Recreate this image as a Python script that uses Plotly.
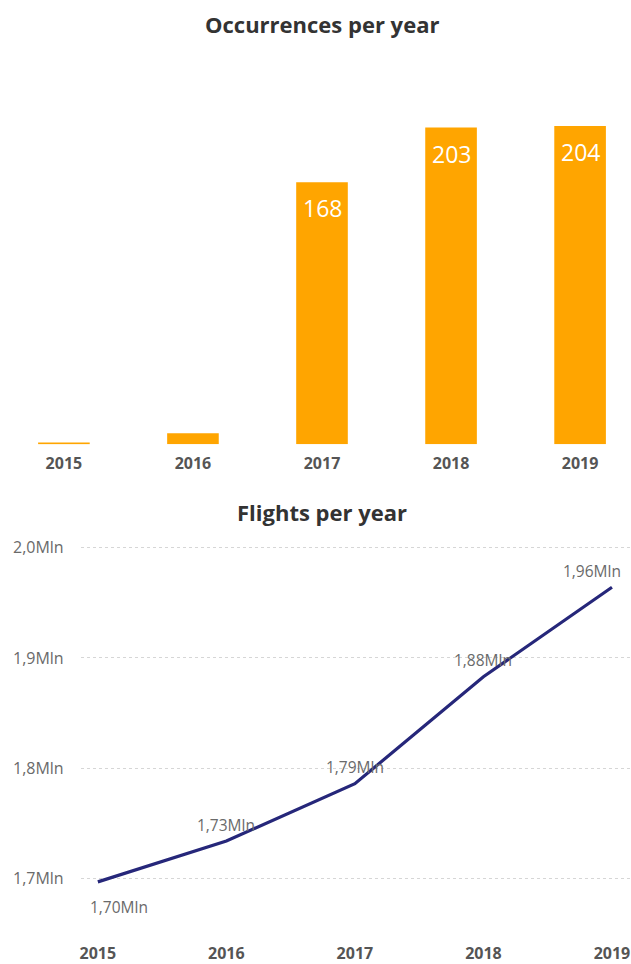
import plotly.graph_objects as go

# Occurrences per year (bar chart)
years = ["2015", "2016", "2017", "2018", "2019"]
occurrences = [1, 7, 168, 203, 204]

# Flights per year, in millions (line chart)
flights_mln = [1.697, 1.734, 1.786, 1.883, 1.964]
flight_ticks = [1.7, 1.8, 1.9, 2.0]
flight_tick_text = ["1,7Mln", "1,8Mln", "1,9Mln", "2,0Mln"]

W, H = 631, 964
ORANGE = "#FFA500"
NAVY = "#26277A"
TITLE_FONT = "Open Sans"
LABEL_FONT = "Open Sans"

idx = list(range(len(years)))

fig = go.Figure()

fig.add_trace(go.Bar(
    x=idx, y=occurrences, width=0.4, marker=dict(color=ORANGE, line=dict(width=0)),
    xaxis="x", yaxis="y", hoverinfo="skip", showlegend=False,
))

fig.add_trace(go.Scatter(
    x=idx, y=flights_mln, mode="lines",
    line=dict(color=NAVY, width=3.2),
    xaxis="x2", yaxis="y2", hoverinfo="skip", showlegend=False,
))

def fmt_mln(v):
    return f"{v:.2f}".replace(".", ",") + "Mln"

annotations = []

# value labels inside the top of the larger bars
for i, v in enumerate(occurrences):
    if v > 50:
        annotations.append(dict(
            x=i, y=v, xref="x", yref="y", text=str(v), showarrow=False,
            yshift=-26, font=dict(family=LABEL_FONT, size=23, color="white"),
        ))

# data labels on the flight line
label_offsets = [(21, -25), (0, 16), (0, 17), (0, 17), (-20, 16)]
for i, v in enumerate(flights_mln):
    dx, dy = label_offsets[i]
    annotations.append(dict(
        x=i, y=v, xref="x2", yref="y2", text=fmt_mln(v), showarrow=False,
        xshift=dx, yshift=dy, font=dict(family=LABEL_FONT, size=15.5, color="#6a6a6a"),
    ))

# chart titles
annotations.append(dict(
    x=322 / W, y=1 - 20 / H, xref="paper", yref="paper", yanchor="middle",
    text="<b>Occurrences per year</b>", showarrow=False,
    font=dict(family=TITLE_FONT, size=22, color="#333333"),
))
annotations.append(dict(
    x=322 / W, y=1 - 511 / H, xref="paper", yref="paper", yanchor="middle",
    text="<b>Flights per year</b>", showarrow=False,
    font=dict(family=TITLE_FONT, size=22, color="#333333"),
))

tick_font = dict(family=TITLE_FONT, size=16, color="#555555")

fig.update_layout(
    width=W, height=H,
    margin=dict(l=0, r=0, t=0, b=0),
    paper_bgcolor="white", plot_bgcolor="white",
    annotations=annotations,
    xaxis=dict(
        domain=[0, 1], range=[-0.4875, 4.3945], anchor="y",
        tickvals=idx, ticktext=[f"<b>{y}</b>" for y in years],
        tickfont=tick_font, showgrid=False, zeroline=False, showline=False,
        ticks="outside", ticklen=5, tickcolor="rgba(0,0,0,0)",
    ),
    yaxis=dict(
        domain=[1 - 443 / H, 1 - 100 / H], range=[0, 218.5], anchor="x",
        visible=False, showgrid=False, zeroline=False,
    ),
    xaxis2=dict(
        domain=[80 / W, 1], range=[-0.132, 4.148], anchor="y2",
        tickvals=idx, ticktext=[f"<b>{y}</b>" for y in years],
        tickfont=tick_font, showgrid=False, zeroline=False, showline=False,
        ticks="outside", ticklen=1, tickcolor="rgba(0,0,0,0)",
    ),
    yaxis2=dict(
        domain=[1 - 940 / H, 1 - 540 / H], range=[1.646, 2.0063], anchor="x2",
        tickvals=flight_ticks, ticktext=flight_tick_text,
        tickfont=dict(family=LABEL_FONT, size=16, color="#6a6a6a"),
        showgrid=True, gridcolor="#d6d6d6", griddash="dot", gridwidth=1,
        zeroline=False, showline=False, ticks="outside", ticklen=13,
        tickcolor="rgba(0,0,0,0)",
    ),
)

fig.write_html("out.html")
